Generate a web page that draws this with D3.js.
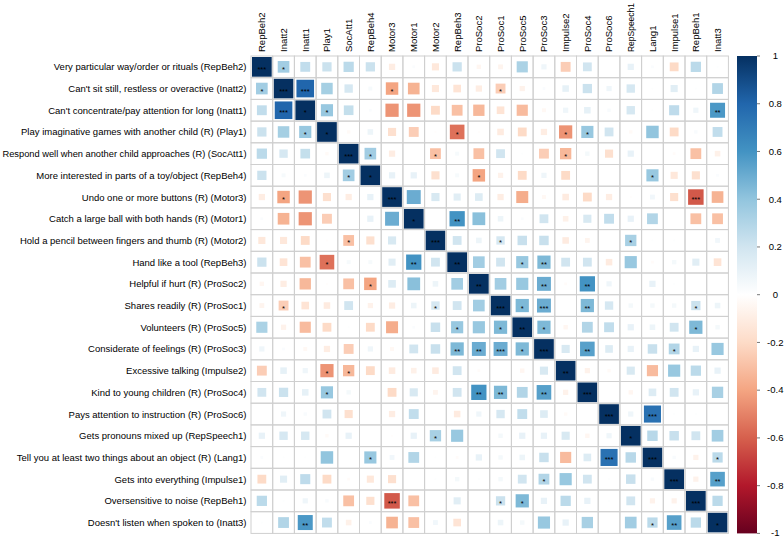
<!DOCTYPE html>
<html><head><meta charset="utf-8">
<script src="https://cdn.jsdelivr.net/npm/d3@7/dist/d3.min.js"></script>
<style>
body{margin:0;background:#fff}
svg{display:block}
text{font-family:"Liberation Sans",Arial,sans-serif}
</style>
</head><body>
<svg id="chart" width="784" height="537"></svg>
<script>
const rowLabels = [
  "Very particular way/order or rituals (RepBeh2)",
  "Can't sit still, restless or overactive (Inatt2)",
  "Can't concentrate/pay attention for long (Inatt1)",
  "Play imaginative games with another child (R) (Play1)",
  "Respond well when another child approaches (R) (SocAtt1)",
  "More interested in parts of a toy/object (RepBeh4)",
  "Undo one or more buttons (R) (Motor3)",
  "Catch a large ball with both hands (R) (Motor1)",
  "Hold a pencil between fingers and thumb (R) (Motor2)",
  "Hand like a tool (RepBeh3)",
  "Helpful if hurt (R) (ProSoc2)",
  "Shares readily (R) (ProSoc1)",
  "Volunteers (R) (ProSoc5)",
  "Considerate of feelings (R) (ProSoc3)",
  "Excessive talking (Impulse2)",
  "Kind to young children (R) (ProSoc4)",
  "Pays attention to instruction (R) (ProSoc6)",
  "Gets pronouns mixed up (RepSpeech1)",
  "Tell you at least two things about an object (R) (Lang1)",
  "Gets into everything (Impulse1)",
  "Oversensitive to noise (RepBeh1)",
  "Doesn't listen when spoken to (Inatt3)"
];
const colLabels = ["RepBeh2","Inatt2","Inatt1","Play1","SocAtt1","RepBeh4","Motor3","Motor1","Motor2","RepBeh3","ProSoc2","ProSoc1","ProSoc5","ProSoc3","Impulse2","ProSoc4","ProSoc6","RepSpeech1","Lang1","Impulse1","RepBeh1","Inatt3"];

// upper triangle of the correlation matrix: row i holds columns i..21
const corrUpper = [
  [1, 0.35, 0.25, 0.22, 0.27, 0.22, -0.1, 0.02, -0.13, 0.22, -0.05, -0.06, 0.32, 0.07, -0.25, 0.2, 0.0, 0.1, 0.02, -0.2, 0.27, 0.01],
  [1, 0.8, 0.34, 0.18, 0.04, -0.4, -0.35, -0.13, -0.15, -0.1, -0.25, -0.07, 0.02, 0.11, 0.22, 0.07, 0.18, 0.01, 0.13, 0.01, 0.3],
  [1, 0.38, 0.24, 0.02, -0.45, -0.45, -0.2, -0.3, -0.33, -0.15, -0.32, -0.04, 0.07, 0.11, 0.03, 0.18, 0.01, 0.26, 0.07, 0.58],
  [1, -0.03, 0.08, -0.17, -0.25, -0.01, -0.55, -0.01, -0.11, -0.2, -0.1, -0.45, 0.38, 0.2, -0.03, 0.4, -0.2, 0.03, 0.25],
  [1, 0.35, -0.1, 0.0, -0.3, 0.04, -0.3, 0.2, 0.01, -0.25, -0.33, 0.05, -0.17, 0.1, 0.0, -0.02, -0.3, -0.08],
  [1, 0.1, 0.1, -0.17, 0.04, -0.4, -0.07, -0.2, 0.07, -0.2, 0.0, 0.0, 0.0, 0.38, -0.13, -0.17, 0.02],
  [1, 0.5, 0.17, 0.13, 0.15, -0.1, -0.37, -0.04, -0.11, -0.2, -0.1, -0.01, 0.06, -0.17, -0.62, -0.35],
  [1, 0.0, 0.6, 0.42, 0.08, 0.02, 0.2, -0.08, 0.17, 0.25, 0.1, 0.3, 0.0, -0.3, -0.3],
  [1, 0.2, 0.08, 0.18, 0.23, 0.23, -0.11, -0.06, 0.0, 0.33, 0.01, 0.01, 0.0, 0.06],
  [1, 0.35, 0.2, 0.38, 0.45, 0.2, 0.2, -0.11, 0.38, -0.02, 0.05, 0.13, -0.15],
  [1, 0.35, 0.38, 0.5, -0.02, 0.6, 0.07, 0.0, 0.1, 0.01, 0.0, 0.0],
  [1, 0.45, 0.5, 0.0, 0.45, 0.18, 0.05, 0.05, 0.05, 0.22, 0.08],
  [1, 0.45, -0.05, 0.3, 0.25, 0.1, 0.08, 0.2, 0.45, 0.05],
  [1, 0.17, 0.55, 0.15, 0.1, 0.23, 0.3, 0.1, 0.38],
  [1, -0.07, -0.03, 0.17, -0.32, 0.38, 0.27, 0.1],
  [1, 0.0, -0.05, 0.15, 0.2, 0.1, 0.33],
  [1, 0.07, 0.75, 0.01, 0.01, 0.0],
  [1, 0.28, 0.23, 0.2, 0.35],
  [1, 0.03, -0.07, 0.27],
  [1, -0.07, 0.55],
  [1, 0.27],
  [1]
];

// significance labels (upper triangle incl. diagonal): [row, col, label]
const sigUpper = [
  [0,0,"***"],[1,1,"***"],[2,2,"*"],[3,3,"*"],[4,4,"***"],[5,5,"*"],[6,6,"***"],[7,7,"*"],
  [8,8,"***"],[9,9,"**"],[10,10,"**"],[11,11,"***"],[12,12,"**"],[13,13,"***"],[14,14,"**"],
  [15,15,"***"],[16,16,"***"],[17,17,"*"],[18,18,"***"],[19,19,"***"],[20,20,"***"],[21,21,"*"],
  [0,1,"*"],[1,2,"***"],[1,6,"*"],[1,11,"*"],[2,3,"*"],[2,21,"**"],[3,9,"*"],[3,14,"*"],[3,15,"*"],
  [4,5,"*"],[4,8,"*"],[4,14,"*"],[5,10,"*"],[5,18,"*"],[6,20,"***"],[7,9,"**"],[8,11,"*"],[8,17,"*"],
  [9,12,"*"],[9,13,"**"],[10,13,"**"],[10,15,"**"],[11,12,"*"],[11,13,"***"],[11,15,"**"],[11,20,"*"],
  [12,13,"*"],[12,20,"*"],[13,15,"**"],[13,19,"*"],[16,18,"***"],[18,21,"*"],[19,21,"**"]
];

const legendTicks = [1, 0.8, 0.6, 0.4, 0.2, 0, -0.2, -0.4, -0.6, -0.8, -1];
const paletteStops = ["#67001F","#B2182B","#D6604D","#F4A582","#FDDBC7","#FFFFFF","#D1E5F0","#92C5DE","#4393C3","#2166AC","#053061"];

const n = rowLabels.length;
const cells = [];
for (let i = 0; i < n; i++) for (let j = 0; j < n; j++) {
  const v = j >= i ? corrUpper[i][j - i] : corrUpper[j][i - j];
  cells.push({i, j, v});
}
const sig = new Map();
sigUpper.forEach(([i, j, s]) => { sig.set(i + "_" + j, s); sig.set(j + "_" + i, s); });

const svg = d3.select("#chart");
const gridL = 251, gridT = 56, cellSz = 21.7;
const x = d3.scaleBand().domain(d3.range(n)).range([gridL, gridL + n * cellSz]);
const y = d3.scaleBand().domain(d3.range(n)).range([gridT, gridT + n * cellSz]);
const color = d3.scaleLinear().domain(d3.range(11).map(k => -1 + k * 0.2)).range(paletteStops);
const bw = x.bandwidth();
const side = v => Math.sqrt(Math.abs(v)) * (bw - 2);
const baseFont = 9.5;

// squares
svg.append("g").selectAll("rect").data(cells).join("rect")
  .attr("x", d => x(d.j) + bw / 2 - side(d.v) / 2)
  .attr("y", d => y(d.i) + bw / 2 - side(d.v) / 2)
  .attr("width", d => side(d.v))
  .attr("height", d => side(d.v))
  .attr("fill", d => color(d.v));

// grid
const grid = svg.append("g").attr("stroke", "#cfcfcf").attr("stroke-width", 1).attr("fill", "none");
grid.selectAll("rect").data(cells).join("rect")
  .attr("x", d => x(d.j)).attr("y", d => y(d.i))
  .attr("width", bw).attr("height", bw);

// significance stars
svg.append("g").selectAll("text").data(cells.filter(d => sig.has(d.i + "_" + d.j))).join("text")
  .attr("x", d => x(d.j) + bw / 2)
  .attr("y", d => y(d.i) + bw / 2 + 5)
  .attr("text-anchor", "middle")
  .attr("font-size", 7.5)
  .attr("fill", "#000")
  .text(d => sig.get(d.i + "_" + d.j));

// shrink a label's font if it would not fit in the space available
function fitFont(sel, maxW) {
  sel.each(function() {
    const w = this.getComputedTextLength();
    if (w > maxW) d3.select(this).attr("font-size", baseFont * maxW / w);
  });
}

// row labels
svg.append("g").selectAll("text").data(rowLabels).join("text")
  .attr("x", gridL - 4.5)
  .attr("y", (d, i) => y(i) + bw / 2 + 3.5)
  .attr("text-anchor", "end")
  .attr("font-size", baseFont)
  .attr("fill", "#000")
  .text(d => d)
  .call(fitFont, gridL - 4.5 - 2);

// column labels
svg.append("g").selectAll("text").data(colLabels).join("text")
  .attr("transform", (d, i) => `translate(${x(i) + bw / 2 + 3.4},${gridT - 4}) rotate(-90)`)
  .attr("text-anchor", "start")
  .attr("font-size", baseFont)
  .attr("fill", "#000")
  .text(d => d)
  .call(fitFont, gridT - 4 - 3);

// colour legend
const legL = 737, legW = 20;
const ly = d3.scaleLinear().domain([-1, 1]).range([gridT + n * cellSz, gridT]);
const defs = svg.append("defs");
const grad = defs.append("linearGradient").attr("id", "cbar").attr("x1", 0).attr("y1", 1).attr("x2", 0).attr("y2", 0);
grad.selectAll("stop").data(paletteStops).join("stop")
  .attr("offset", (d, k) => k / (paletteStops.length - 1))
  .attr("stop-color", d => d);
svg.append("rect").attr("x", legL).attr("y", ly(1)).attr("width", legW).attr("height", ly(-1) - ly(1))
  .attr("fill", "url(#cbar)");
const lg = svg.append("g");
lg.selectAll("line").data(legendTicks).join("line")
  .attr("x1", legL + legW).attr("x2", legL + legW + 3)
  .attr("y1", d => ly(d)).attr("y2", d => ly(d))
  .attr("stroke", "#555").attr("stroke-width", 0.8);
lg.selectAll("text").data(legendTicks).join("text")
  .attr("x", 775.3).attr("y", d => Math.min(ly(d) + 3.3, 535.5))
  .attr("text-anchor", "middle")
  .attr("font-size", baseFont)
  .attr("fill", "#000")
  .text(d => String(d));
</script>
</body></html>
